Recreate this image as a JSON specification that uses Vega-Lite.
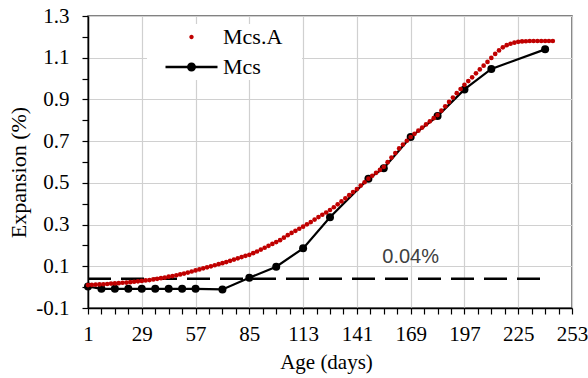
{
  "$schema": "https://vega.github.io/schema/vega-lite/v6.json",
  "width": 484,
  "height": 292,
  "autosize": "none",
  "padding": {"left": 88, "top": 16, "right": 16, "bottom": 70},
  "background": "white",
  "config": {
    "view": {"stroke": "#595959", "strokeWidth": 1.5},
    "font": "Liberation Serif"
  },
  "datasets": {
    "mcsA": [
      {"day":1,"value":0.010,"series":"Mcs.A"},{"day":3,"value":0.011,"series":"Mcs.A"},{"day":5,"value":0.012,"series":"Mcs.A"},{"day":7,"value":0.013,"series":"Mcs.A"},{"day":9,"value":0.014,"series":"Mcs.A"},{"day":11,"value":0.015,"series":"Mcs.A"},{"day":13,"value":0.017,"series":"Mcs.A"},{"day":15,"value":0.018,"series":"Mcs.A"},{"day":17,"value":0.019,"series":"Mcs.A"},{"day":19,"value":0.021,"series":"Mcs.A"},{"day":21,"value":0.022,"series":"Mcs.A"},{"day":23,"value":0.024,"series":"Mcs.A"},{"day":25,"value":0.026,"series":"Mcs.A"},{"day":27,"value":0.028,"series":"Mcs.A"},{"day":29,"value":0.030,"series":"Mcs.A"},{"day":31,"value":0.032,"series":"Mcs.A"},{"day":33,"value":0.034,"series":"Mcs.A"},{"day":35,"value":0.037,"series":"Mcs.A"},{"day":37,"value":0.040,"series":"Mcs.A"},{"day":39,"value":0.043,"series":"Mcs.A"},{"day":41,"value":0.046,"series":"Mcs.A"},{"day":43,"value":0.050,"series":"Mcs.A"},{"day":45,"value":0.053,"series":"Mcs.A"},{"day":47,"value":0.057,"series":"Mcs.A"},{"day":49,"value":0.061,"series":"Mcs.A"},{"day":51,"value":0.065,"series":"Mcs.A"},{"day":53,"value":0.070,"series":"Mcs.A"},{"day":55,"value":0.075,"series":"Mcs.A"},{"day":57,"value":0.080,"series":"Mcs.A"},{"day":59,"value":0.085,"series":"Mcs.A"},{"day":61,"value":0.090,"series":"Mcs.A"},{"day":63,"value":0.095,"series":"Mcs.A"},{"day":65,"value":0.100,"series":"Mcs.A"},{"day":67,"value":0.105,"series":"Mcs.A"},{"day":69,"value":0.110,"series":"Mcs.A"},{"day":71,"value":0.115,"series":"Mcs.A"},{"day":73,"value":0.120,"series":"Mcs.A"},{"day":75,"value":0.126,"series":"Mcs.A"},{"day":77,"value":0.132,"series":"Mcs.A"},{"day":79,"value":0.138,"series":"Mcs.A"},{"day":81,"value":0.144,"series":"Mcs.A"},{"day":83,"value":0.150,"series":"Mcs.A"},{"day":85,"value":0.155,"series":"Mcs.A"},{"day":87,"value":0.163,"series":"Mcs.A"},{"day":89,"value":0.171,"series":"Mcs.A"},{"day":91,"value":0.180,"series":"Mcs.A"},{"day":93,"value":0.189,"series":"Mcs.A"},{"day":95,"value":0.198,"series":"Mcs.A"},{"day":97,"value":0.207,"series":"Mcs.A"},{"day":99,"value":0.216,"series":"Mcs.A"},{"day":101,"value":0.225,"series":"Mcs.A"},{"day":103,"value":0.237,"series":"Mcs.A"},{"day":105,"value":0.249,"series":"Mcs.A"},{"day":107,"value":0.260,"series":"Mcs.A"},{"day":109,"value":0.270,"series":"Mcs.A"},{"day":111,"value":0.280,"series":"Mcs.A"},{"day":113,"value":0.290,"series":"Mcs.A"},{"day":115,"value":0.301,"series":"Mcs.A"},{"day":117,"value":0.312,"series":"Mcs.A"},{"day":119,"value":0.324,"series":"Mcs.A"},{"day":121,"value":0.336,"series":"Mcs.A"},{"day":123,"value":0.347,"series":"Mcs.A"},{"day":125,"value":0.358,"series":"Mcs.A"},{"day":127,"value":0.370,"series":"Mcs.A"},{"day":129,"value":0.383,"series":"Mcs.A"},{"day":131,"value":0.397,"series":"Mcs.A"},{"day":133,"value":0.411,"series":"Mcs.A"},{"day":135,"value":0.426,"series":"Mcs.A"},{"day":137,"value":0.441,"series":"Mcs.A"},{"day":139,"value":0.456,"series":"Mcs.A"},{"day":141,"value":0.470,"series":"Mcs.A"},{"day":143,"value":0.487,"series":"Mcs.A"},{"day":145,"value":0.503,"series":"Mcs.A"},{"day":147,"value":0.520,"series":"Mcs.A"},{"day":149,"value":0.534,"series":"Mcs.A"},{"day":151,"value":0.548,"series":"Mcs.A"},{"day":153,"value":0.562,"series":"Mcs.A"},{"day":155,"value":0.577,"series":"Mcs.A"},{"day":157,"value":0.599,"series":"Mcs.A"},{"day":159,"value":0.621,"series":"Mcs.A"},{"day":161,"value":0.643,"series":"Mcs.A"},{"day":163,"value":0.665,"series":"Mcs.A"},{"day":165,"value":0.684,"series":"Mcs.A"},{"day":167,"value":0.702,"series":"Mcs.A"},{"day":169,"value":0.720,"series":"Mcs.A"},{"day":171,"value":0.735,"series":"Mcs.A"},{"day":173,"value":0.750,"series":"Mcs.A"},{"day":175,"value":0.765,"series":"Mcs.A"},{"day":177,"value":0.780,"series":"Mcs.A"},{"day":179,"value":0.795,"series":"Mcs.A"},{"day":181,"value":0.810,"series":"Mcs.A"},{"day":183,"value":0.825,"series":"Mcs.A"},{"day":185,"value":0.846,"series":"Mcs.A"},{"day":187,"value":0.867,"series":"Mcs.A"},{"day":189,"value":0.888,"series":"Mcs.A"},{"day":191,"value":0.909,"series":"Mcs.A"},{"day":193,"value":0.930,"series":"Mcs.A"},{"day":195,"value":0.950,"series":"Mcs.A"},{"day":197,"value":0.970,"series":"Mcs.A"},{"day":199,"value":0.988,"series":"Mcs.A"},{"day":201,"value":1.006,"series":"Mcs.A"},{"day":203,"value":1.025,"series":"Mcs.A"},{"day":205,"value":1.044,"series":"Mcs.A"},{"day":207,"value":1.062,"series":"Mcs.A"},{"day":209,"value":1.080,"series":"Mcs.A"},{"day":211,"value":1.099,"series":"Mcs.A"},{"day":213,"value":1.118,"series":"Mcs.A"},{"day":215,"value":1.135,"series":"Mcs.A"},{"day":217,"value":1.150,"series":"Mcs.A"},{"day":219,"value":1.160,"series":"Mcs.A"},{"day":221,"value":1.167,"series":"Mcs.A"},{"day":223,"value":1.172,"series":"Mcs.A"},{"day":225,"value":1.176,"series":"Mcs.A"},{"day":227,"value":1.178,"series":"Mcs.A"},{"day":229,"value":1.179,"series":"Mcs.A"},{"day":231,"value":1.180,"series":"Mcs.A"},{"day":233,"value":1.180,"series":"Mcs.A"},{"day":235,"value":1.180,"series":"Mcs.A"},{"day":237,"value":1.180,"series":"Mcs.A"},{"day":239,"value":1.180,"series":"Mcs.A"},{"day":241,"value":1.180,"series":"Mcs.A"},{"day":243,"value":1.180,"series":"Mcs.A"}
    ],
    "mcs": [
      {"day":1,"value":0.003,"series":"Mcs"},{"day":8,"value":-0.008,"series":"Mcs"},{"day":15,"value":-0.008,"series":"Mcs"},{"day":22,"value":-0.008,"series":"Mcs"},{"day":29,"value":-0.008,"series":"Mcs"},{"day":36,"value":-0.008,"series":"Mcs"},{"day":43,"value":-0.008,"series":"Mcs"},{"day":50,"value":-0.008,"series":"Mcs"},{"day":57,"value":-0.008,"series":"Mcs"},{"day":71,"value":-0.011,"series":"Mcs"},{"day":85,"value":0.045,"series":"Mcs"},{"day":99,"value":0.098,"series":"Mcs"},{"day":113,"value":0.186,"series":"Mcs"},{"day":127,"value":0.335,"series":"Mcs"},{"day":147,"value":0.520,"series":"Mcs"},{"day":155,"value":0.570,"series":"Mcs"},{"day":169,"value":0.720,"series":"Mcs"},{"day":183,"value":0.820,"series":"Mcs"},{"day":197,"value":0.948,"series":"Mcs"},{"day":211,"value":1.046,"series":"Mcs"},{"day":239,"value":1.140,"series":"Mcs"}
    ],
    "limit": [{"day":1,"day2":239,"value":0.04}],
    "note": [{"day":169,"value":0.146,"label":"0.04%"}]
  },
  "encoding": {
    "x": {
      "field": "day", "type": "quantitative",
      "scale": {"domain": [1, 253], "nice": false, "zero": false},
      "axis": {
        "title": "Age (days)",
        "values": [1,8,15,22,29,36,43,50,57,64,71,78,85,92,99,106,113,120,127,134,141,148,155,162,169,176,183,190,197,204,211,218,225,232,239,246,253],
        "labelExpr": "(datum.value - 1) % 28 == 0 ? '' + datum.value : ''",
        "labelOverlap": false, "labelFlush": false,
        "labelFont": "Liberation Serif", "labelFontSize": 21, "labelColor": "#000000",
        "labelBaseline": "alphabetic", "labelPadding": 26,
        "tickSize": 6, "tickColor": "#000000", "tickWidth": 1.2,
        "domainColor": "#000000", "domainWidth": 1.5,
        "grid": true, "gridColor": "#d0d0d0", "gridWidth": 1.2,
        "gridOpacity": {"condition": {"test": "(datum.value - 1) % 28 == 0", "value": 1}, "value": 0},
        "titleFont": "Liberation Serif", "titleFontSize": 21, "titleFontWeight": "normal", "titleColor": "#000000",
        "titleX": 238, "titleY": 60, "titleBaseline": "alphabetic", "titleAlign": "center"
      }
    },
    "y": {
      "field": "value", "type": "quantitative",
      "scale": {"domain": [-0.1, 1.3], "nice": false, "zero": false},
      "axis": {
        "title": "Expansion (%)",
        "values": [-0.1,0,0.1,0.2,0.3,0.4,0.5,0.6,0.7,0.8,0.9,1.0,1.1,1.2,1.3],
        "labelExpr": "round(datum.value*10) % 2 != 0 ? replace(format(datum.value, '.1f'), '\u2212', '-') : ''",
        "labelOverlap": false, "labelFlush": false,
        "labelFont": "Liberation Serif", "labelFontSize": 21, "labelColor": "#000000",
        "labelPadding": 13,
        "tickSize": 6, "tickColor": "#000000", "tickWidth": 1.2,
        "domainColor": "#000000", "domainWidth": 1.5,
        "grid": true, "gridColor": "#d0d0d0", "gridWidth": 1.2,
        "gridOpacity": {"condition": {"test": "round(datum.value*10) % 2 != 0", "value": 1}, "value": 0},
        "titleFont": "Liberation Serif", "titleFontSize": 22, "titleFontWeight": "normal", "titleColor": "#000000",
        "titleX": -58, "titleY": 156, "titleAngle": 270, "titleBaseline": "bottom", "titleAlign": "center"
      }
    }
  },
  "layer": [
    {
      "data": {"name": "limit"},
      "mark": {"type": "rule", "color": "#000000", "strokeWidth": 2.5, "strokeDash": [23, 10]},
      "encoding": {"x2": {"field": "day2"}}
    },
    {
      "data": {"name": "note"},
      "mark": {"type": "text", "font": "Liberation Sans", "fontSize": 20, "color": "#404040", "align": "center", "baseline": "middle"},
      "encoding": {"text": {"field": "label"}}
    },
    {
      "data": {"name": "mcs"},
      "mark": {"type": "line", "strokeWidth": 2.2, "point": {"filled": true, "size": 64, "opacity": 1}},
      "encoding": {
        "color": {
          "field": "series", "type": "nominal",
          "scale": {"domain": ["Mcs.A", "Mcs"], "range": ["#C00000", "#000000"]},
          "legend": {
            "title": "\u00a0", "titleOrient": "right", "titlePadding": 18, "titleFontSize": 10,
            "orient": "none", "legendX": 59, "legendY": 8,
            "padding": 2, "fillColor": "white", "strokeColor": null,
            "labelFont": "Liberation Serif", "labelFontSize": 22, "labelColor": "#000000",
            "symbolSize": 100, "symbolStrokeWidth": 0, "symbolOffset": 31.5, "labelOffset": 20.5,
            "rowPadding": 8,
            "encode": {
              "symbols": {
                "update": {
                  "shape": {"signal": "datum.value === 'Mcs' ? 'M-5.2,-0.25H5.2V0.25H-5.2Z M0.9,0A0.9,0.9,0,1,1,-0.9,0A0.9,0.9,0,1,1,0.9,0Z' : 'M0.44,0A0.44,0.44,0,1,1,-0.44,0A0.44,0.44,0,1,1,0.44,0Z'"},
                  "fill": {"signal": "datum.value === 'Mcs' ? '#000000' : '#C00000'"},
                  "stroke": {"value": "transparent"},
                  "opacity": {"value": 1}
                }
              }
            }
          }
        }
      }
    },
    {
      "data": {"name": "mcsA"},
      "mark": {"type": "point", "filled": true, "size": 22, "opacity": 1},
      "encoding": {
        "color": {
          "field": "series", "type": "nominal",
          "scale": {"domain": ["Mcs.A", "Mcs"], "range": ["#C00000", "#000000"]}
        }
      }
    }
  ]
}
